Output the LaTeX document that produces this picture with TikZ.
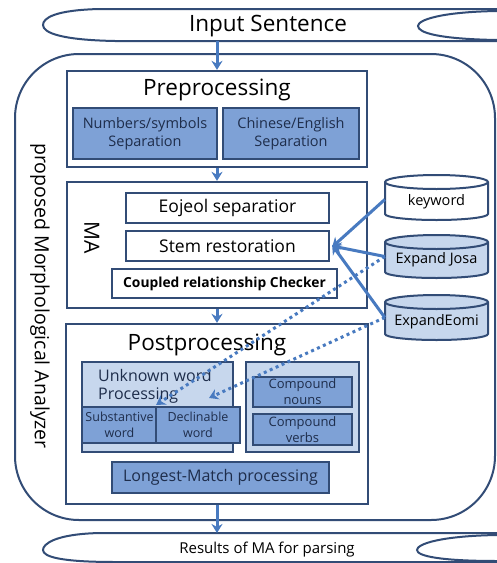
\documentclass[tikz,border=0pt]{standalone}
\usepackage{fontspec}
\setmainfont{Open Sans}
\usetikzlibrary{arrows.meta}
\definecolor{bdr}{RGB}{50,76,118}
\definecolor{midfill}{RGB}{126,161,214}
\definecolor{lightfill}{RGB}{199,215,237}
\definecolor{arrc}{RGB}{72,122,192}
\definecolor{txtc}{RGB}{30,45,75}
\newcommand\fsz[2]{\fontsize{#1}{#2}\selectfont}
\newcommand\mycyl[3]{%
  \filldraw[cylb, fill=#3] (385,#1+7) -- (385,#2-6)
    arc[start angle=180,end angle=360,x radius=51.5pt,y radius=6pt]
    -- (488,#1+7)
    arc[start angle=0,end angle=180,x radius=51.5pt,y radius=7pt] -- cycle;
  \draw[cylb] (385,#1+7) arc[start angle=180,end angle=360,x radius=51.5pt,y radius=7pt];
}
\tikzset{
  box/.style={draw=bdr, line width=2.3pt, inner sep=0pt, align=center},
  whitebox/.style={box, fill=white},
  midbox/.style={box, fill=midfill, text=txtc},
  lightbox/.style={box, fill=lightfill, text=txtc},
  cylb/.style={draw=bdr, line width=2pt},
  outerline/.style={draw=bdr, line width=2pt},
  arr/.style={draw=arrc, line width=3pt, -{Stealth[length=9pt,width=11pt]}},
  dotarr/.style={draw=arrc, line width=3pt, line cap=butt, dash pattern=on 3pt off 3.5pt, -{Stealth[length=9pt,width=11pt]}},
}
\begin{document}
\begin{tikzpicture}[x=1pt,y=-1pt]
\useasboundingbox[fill=white] (0,0) rectangle (496,563);

% top banner
\draw[outerline] (497,9) -- (100,9) .. controls (55,10) and (43,18) .. (43,25)
  .. controls (43,33) and (62,40) .. (115,41) -- (497,41);
\draw[outerline] (497,11) .. controls (440,12) and (418,20) .. (418,26)
  .. controls (418,33) and (440,39) .. (497,40);
\node[font={\fsz{22.5}{24}}] (insent) at (268,26) {Input Sentence};
\coordinate (inbot) at (217,41);

% bottom banner
\draw[outerline] (497,533) -- (100,533) .. controls (55,534) and (43,544) .. (43,550)
  .. controls (43,557) and (62,562) .. (115,562) -- (497,562);
\draw[outerline] (497,535) .. controls (440,536) and (417,544) .. (417,550)
  .. controls (417,556) and (440,561) .. (497,561);
\node[font={\fsz{15}{17}}] (results) at (267,550) {Results of MA for parsing};
\coordinate (restop) at (217,533);

% outer analyzer shape
\node[outerline, rounded corners=64pt, minimum width=480pt, minimum height=466pt, inner sep=0pt] (outer) at (255,287) {};
\node[rotate=-90, font={\fsz{19.5}{22}}] (outlabel) at (40,296) {proposed Morphological Analyzer};

% Preprocessing
\node[whitebox, minimum width=300pt, minimum height=96pt] (pre) at (217,119) {};
\node[font={\fsz{22.5}{24}}] (pretitle) at (217,90) {Preprocessing};
\node[midbox, minimum width=144pt, minimum height=51pt, font={\fsz{14.5}{18}}] (num) at (145,133.5) {Numbers/symbols\\Separation};
\node[midbox, minimum width=136pt, minimum height=51pt, font={\fsz{14.5}{18}}] (chi) at (291,133.5) {Chinese/English\\Separation};

% MA
\node[whitebox, minimum width=300pt, minimum height=126pt] (ma) at (217,245) {};
\node[rotate=-90, font={\fsz{21}{23}}] (matitle) at (92,238) {MA};
\node[whitebox, minimum width=203pt, minimum height=30pt, font={\fsz{17.5}{19}}] (eoj) at (227.5,208) {Eojeol separatior};
\node[whitebox, minimum width=203pt, minimum height=30pt, font={\fsz{17.5}{19}}] (stem) at (227.5,246) {Stem restoration};
\node[whitebox, minimum width=225pt, minimum height=29pt, font={\fsz{13.8}{15}\bfseries}] (coup) at (224.5,283.5) {Coupled relationship Checker};

% Postprocessing
\node[whitebox, minimum width=302pt, minimum height=180pt] (post) at (217,414) {};
\node[font={\fsz{22.5}{24}}] (posttitle) at (207,345) {Postprocessing};
\node[lightbox, minimum width=151pt, minimum height=90pt] (unk) at (157.5,407) {};
\node[anchor=west, align=left, text=txtc, inner sep=0pt, font={\fsz{16}{18}}] (unktxt) at (98,386) {Unknown word\\Processing};
\node[midbox, minimum width=75pt, minimum height=36pt, font={\fsz{12.5}{16}}] (subst) at (119.5,425) {Substantive\\word};
\node[midbox, minimum width=84pt, minimum height=36pt, font={\fsz{12.5}{16}}] (decl) at (198,425) {Declinable\\word};
\node[lightbox, minimum width=113pt, minimum height=90pt] (comp) at (302.5,407) {};
\node[midbox, minimum width=99pt, minimum height=30pt, font={\fsz{13}{16}}] (cn) at (302.5,392) {Compound\\nouns};
\node[midbox, minimum width=99pt, minimum height=31pt, font={\fsz{13}{16}}] (cv) at (302.5,429.5) {Compound\\verbs};
\node[midbox, minimum width=217pt, minimum height=31pt, font={\fsz{16}{18}}] (longest) at (220.5,477.5) {Longest-Match processing};

% cylinders
\mycyl{175}{220}{white}
\mycyl{235}{278}{lightfill}
\mycyl{295}{340}{lightfill}
\node[minimum width=103pt, minimum height=45pt, inner sep=0pt] (kwc) at (436.5,197.5) {};
\node[minimum width=103pt, minimum height=43pt, inner sep=0pt] (josac) at (436.5,256.5) {};
\node[minimum width=103pt, minimum height=45pt, inner sep=0pt] (eomic) at (436.5,317.5) {};
\node[font={\fsz{14.5}{16}}] (kw) at (436.5,202) {keyword};
\node[font={\fsz{14.5}{16}}] (josa) at (436.5,260) {Expand Josa};
\node[font={\fsz{14.5}{16}}] (eomi) at (436.5,322) {ExpandEomi};

% main flow arrows
\draw[arr] (inbot) -- (pre.north);
\draw[arr] (pre.south) -- (ma.north);
\draw[arr] (ma.south) -- (post.north);
\draw[arr] (post.south) -- (restop);

% dotted arrows
\coordinate (unkend) at (209,398);
\draw[dotarr] (josac.west) -- ([xshift=-2pt,yshift=1pt]subst.north east);
\draw[dotarr] (eomic.west) -- (unkend);

% dictionary arrows
\draw[arr] ([yshift=-2pt]kwc.west) -- ([xshift=2pt,yshift=-1pt]stem.east);
\draw[arr] (josac.west) -- ([xshift=2pt]stem.east);
\draw[arr] (eomic.west) -- ([xshift=2pt,yshift=1pt]stem.east);
\end{tikzpicture}
\end{document}
